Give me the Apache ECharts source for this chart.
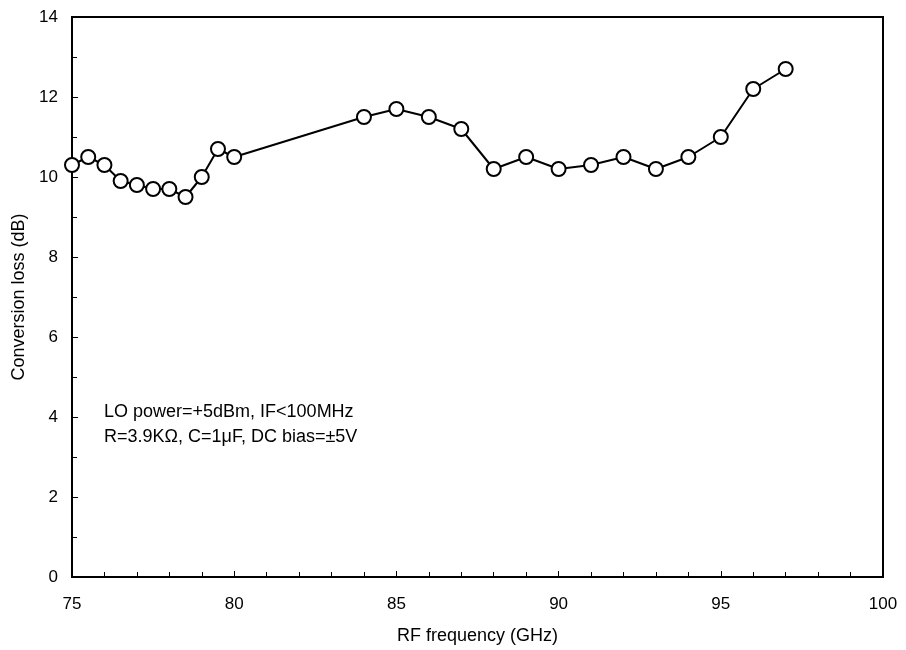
<!DOCTYPE html>
<html>
<head>
<meta charset="utf-8">
<script src="https://cdn.jsdelivr.net/npm/echarts@6/dist/echarts.min.js"></script>
<style>
  html, body { margin: 0; padding: 0; background: #fff; }
  #main { width: 906px; height: 650px; }
</style>
</head>
<body>
<div id="main"></div>
<script>
// RF frequency (GHz) and conversion loss (dB)
var freq = [75, 75.5, 76, 76.5, 77, 77.5, 78, 78.5, 79, 79.5, 80,
            84, 85, 86, 87, 88, 89, 90, 91, 92, 93, 94, 95, 96, 97];
var loss = [10.3, 10.5, 10.3, 9.9, 9.8, 9.7, 9.7, 9.5, 10.0, 10.7, 10.5,
            11.5, 11.7, 11.5, 11.2, 10.2, 10.5, 10.2, 10.3, 10.5, 10.2, 10.5, 11.0, 12.2, 12.7];
var noteLines = ['LO power=+5dBm, IF<100MHz', 'R=3.9K\u03A9, C=1\u03BCF, DC bias=\u00B15V'];

var myChart = echarts.init(document.getElementById('main'));
var font = 'Liberation Sans, Arial, sans-serif';

var option = {
    animation: false,
    backgroundColor: '#fff',
    grid: {
        left: 72, right: 23, top: 17, bottom: 72,
        show: true,
        borderColor: '#000',
        borderWidth: 2
    },
    xAxis: {
        type: 'value',
        min: 75, max: 100, interval: 5,
        name: 'RF frequency (GHz)',
        nameLocation: 'middle',
        nameGap: 50,
        nameTextStyle: {color: '#000', fontSize: 18, fontFamily: font},
        axisLine: {lineStyle: {color: '#000', width: 2}},
        axisTick: {inside: true, length: 6, lineStyle: {color: '#000', width: 1}},
        minorTick: {show: true, splitNumber: 5, length: 5, lineStyle: {color: '#000', width: 1}},
        axisLabel: {color: '#000', fontSize: 17, fontFamily: font, margin: 19},
        splitLine: {show: false}
    },
    yAxis: {
        type: 'value',
        min: 0, max: 14, interval: 2,
        name: 'Conversion loss (dB)',
        nameLocation: 'middle',
        nameGap: 40,
        nameTextStyle: {color: '#000', fontSize: 18, fontFamily: font},
        axisLine: {lineStyle: {color: '#000', width: 2}},
        axisTick: {inside: true, length: 6, lineStyle: {color: '#000', width: 1}},
        minorTick: {show: true, splitNumber: 2, length: 5, lineStyle: {color: '#000', width: 1}},
        axisLabel: {color: '#000', fontSize: 17, fontFamily: font, margin: 14},
        splitLine: {show: false}
    },
    graphic: [
        {
            type: 'text',
            left: 104, top: 400,
            style: {
                text: noteLines.join('\n'),
                fill: '#000',
                font: '18px ' + font,
                lineHeight: 25
            }
        }
    ],
    series: [
        {
            type: 'line',
            data: freq.map(function (f, i) { return [f, loss[i]]; }),
            symbol: 'circle',
            symbolSize: 14,
            lineStyle: {color: '#000', width: 2},
            itemStyle: {color: '#fff', borderColor: '#000', borderWidth: 2}
        }
    ]
};
myChart.setOption(option);
</script>
</body>
</html>
